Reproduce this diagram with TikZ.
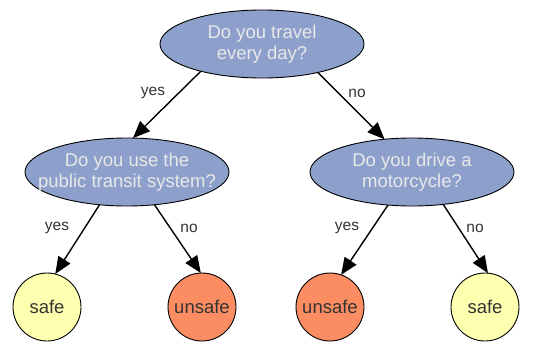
\documentclass[tikz,border=0pt]{standalone}
\usepackage{fontspec}
\setmainfont{Liberation Sans}
\usetikzlibrary{arrows.meta,shapes.geometric}
\definecolor{qfill}{HTML}{8DA0CB}
\definecolor{safefill}{HTML}{FFFFB0}
\definecolor{unsafefill}{HTML}{FC8D62}
\definecolor{qtextc}{HTML}{E8E8E8}
\definecolor{dtext}{HTML}{333333}
\tikzset{
  question/.style={ellipse, draw=black, line width=0.9pt, fill=qfill, minimum width=204pt, minimum height=68pt, inner sep=0pt, outer sep=0pt},
  qtext/.style={text=qtextc, align=center, font=\fontsize{18.5}{21.5}\selectfont, inner sep=0pt},
  leaf/.style={circle, draw=black, line width=0.9pt, minimum size=68pt, inner sep=0pt, outer sep=0pt, text=dtext, font=\fontsize{18.5}{21.5}\selectfont},
  safeleaf/.style={leaf, fill=safefill},
  unsafeleaf/.style={leaf, fill=unsafefill},
  conn/.style={line width=1.4pt, -{Triangle[length=17pt,width=14pt]}},
  lbl/.style={text=dtext, font=\fontsize{15.5}{18}\selectfont, inner sep=0pt}
}
\begin{document}
\begin{tikzpicture}[x=1pt,y=-1pt]
\useasboundingbox (0,0) rectangle (540,343);
\node[question] (top) at (262,44) {};
\node[qtext] (topt) at (top.center) {Do you travel\\every day?};
\node[question] (lm) at (127,172) {};
\node[qtext] (lmt) at (lm.center) {Do you use the\\public transit system?};
\node[question] (rm) at (412,172) {};
\node[qtext] (rmt) at (rm.center) {Do you drive a\\motorcycle?};
\node[safeleaf] (s1) at (47,307) {safe};
\node[unsafeleaf] (u1) at (202,307) {unsafe};
\node[unsafeleaf] (u2) at (330,307) {unsafe};
\node[safeleaf] (s2) at (485,307) {safe};
\draw[conn] (top.204) -- (lm.80);
\draw[conn] (top.333) -- (rm.130);
\draw[conn] (lm.230) -- (s1.76);
\draw[conn] (lm.310) -- (u1.92);
\draw[conn] (rm.234) -- (u2.71);
\draw[conn] (rm.314) -- (s2.85);
\node[lbl] (l1) at (153,93) {yes};
\node[lbl] (l2) at (357,93) {no};
\node[lbl] (l3) at (57,228) {yes};
\node[lbl] (l4) at (189,228) {no};
\node[lbl] (l5) at (347,228) {yes};
\node[lbl] (l6) at (475,228) {no};
\end{tikzpicture}
\end{document}
